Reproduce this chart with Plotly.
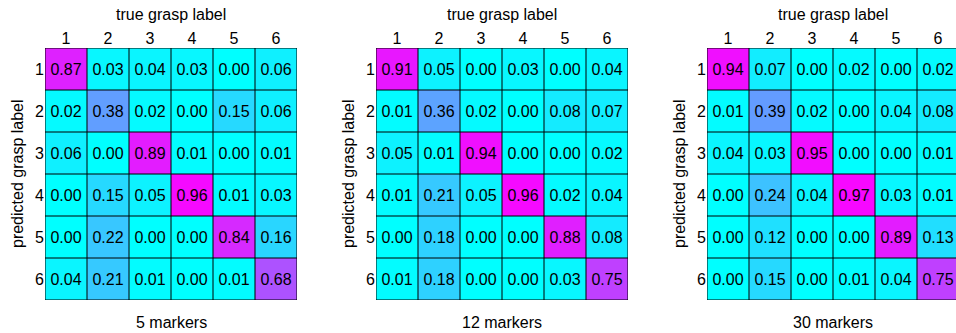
import plotly.graph_objects as go

W, H = 956, 333

labels = ["1", "2", "3", "4", "5", "6"]
panel_titles = ["5 markers", "12 markers", "30 markers"]

m5 = [
    [0.87, 0.03, 0.04, 0.03, 0.00, 0.06],
    [0.02, 0.38, 0.02, 0.00, 0.15, 0.06],
    [0.06, 0.00, 0.89, 0.01, 0.00, 0.01],
    [0.00, 0.15, 0.05, 0.96, 0.01, 0.03],
    [0.00, 0.22, 0.00, 0.00, 0.84, 0.16],
    [0.04, 0.21, 0.01, 0.00, 0.01, 0.68],
]
m12 = [
    [0.91, 0.05, 0.00, 0.03, 0.00, 0.04],
    [0.01, 0.36, 0.02, 0.00, 0.08, 0.07],
    [0.05, 0.01, 0.94, 0.00, 0.00, 0.02],
    [0.01, 0.21, 0.05, 0.96, 0.02, 0.04],
    [0.00, 0.18, 0.00, 0.00, 0.88, 0.08],
    [0.01, 0.18, 0.00, 0.00, 0.03, 0.75],
]
m30 = [
    [0.94, 0.07, 0.00, 0.02, 0.00, 0.02],
    [0.01, 0.39, 0.02, 0.00, 0.04, 0.08],
    [0.04, 0.03, 0.95, 0.00, 0.00, 0.01],
    [0.00, 0.24, 0.04, 0.97, 0.03, 0.01],
    [0.00, 0.12, 0.00, 0.00, 0.89, 0.13],
    [0.00, 0.15, 0.00, 0.01, 0.04, 0.75],
]
matrices = [m5, m12, m30]

cool = [[0.0, "rgb(0,255,255)"], [1.0, "rgb(255,0,255)"]]
FONT = "Arial, Liberation Sans, sans-serif"

# pixel layout of each panel grid
grid_left = [45, 376, 707]
cell = 42
grid_top, grid_bottom = 48, 300
ytitle_x = [17, 348, 679]

fig = go.Figure()
n = len(labels)
annotations = []
shapes = []
for k, mat in enumerate(matrices):
    idx = "" if k == 0 else str(k + 1)
    x0 = grid_left[k]
    x1 = x0 + cell * n
    vis_x1 = min(x1, W)
    xr_hi = (n - 0.5) - (x1 - vis_x1) / cell
    fig.add_trace(go.Heatmap(
        z=mat, x=list(range(n)), y=list(range(n)),
        colorscale=cool, zmin=0, zmax=1, showscale=False,
        texttemplate="%{z:.2f}", textfont=dict(size=16, color="black", family=FONT),
        hoverinfo="skip",
        xaxis="x" + idx, yaxis="y" + idx,
    ))
    fig.layout["xaxis" + idx] = dict(
        domain=[x0 / W, vis_x1 / W], range=[-0.5, xr_hi], side="top",
        tickmode="array", tickvals=list(range(n)), ticktext=labels,
        showgrid=False, zeroline=False, ticks="", fixedrange=True,
        tickfont=dict(size=16, color="black", family=FONT),
        anchor="y" + idx,
    )
    fig.layout["yaxis" + idx] = dict(
        domain=[(H - grid_bottom) / H, (H - grid_top) / H], range=[n - 0.5, -0.5],
        tickmode="array", tickvals=list(range(n)), ticktext=labels,
        showgrid=False, zeroline=False, ticks="", fixedrange=True,
        tickfont=dict(size=16, color="black", family=FONT),
        anchor="x" + idx,
    )
    # cell borders
    xref, yref = "x" + idx, "y" + idx
    for i in range(n + 1):
        p = i - 0.5
        shapes.append(dict(type="line", xref=xref, yref=yref, x0=p, x1=p,
                           y0=-0.5, y1=n - 0.5, line=dict(color="black", width=1)))
        shapes.append(dict(type="line", xref=xref, yref=yref, x0=-0.5, x1=n - 0.5,
                           y0=p, y1=p, line=dict(color="black", width=1)))
    cx = (x0 + x1) / 2 / W
    annotations.append(dict(text="true grasp label", x=cx, y=(H - 15) / H,
                            xref="paper", yref="paper", showarrow=False,
                            xanchor="center", yanchor="middle",
                            font=dict(size=16, color="black", family=FONT)))
    annotations.append(dict(text=panel_titles[k], x=cx, y=(H - 322) / H,
                            xref="paper", yref="paper", showarrow=False,
                            xanchor="center", yanchor="middle",
                            font=dict(size=16, color="black", family=FONT)))
    annotations.append(dict(text="predicted grasp label", x=ytitle_x[k] / W,
                            y=(H - (grid_top + grid_bottom) / 2) / H,
                            xref="paper", yref="paper", showarrow=False, textangle=-90,
                            xanchor="center", yanchor="middle",
                            font=dict(size=16, color="black", family=FONT)))

fig.update_layout(
    width=W, height=H, margin=dict(l=0, r=0, t=0, b=0),
    paper_bgcolor="white", plot_bgcolor="white",
    annotations=annotations, shapes=shapes, showlegend=False,
    font=dict(family=FONT, color="black"),
)
fig.write_html("out.html",
               config={"displayModeBar": False, "staticPlot": True},
               post_script="document.body.style.margin='0px';document.body.style.overflow='hidden';")
